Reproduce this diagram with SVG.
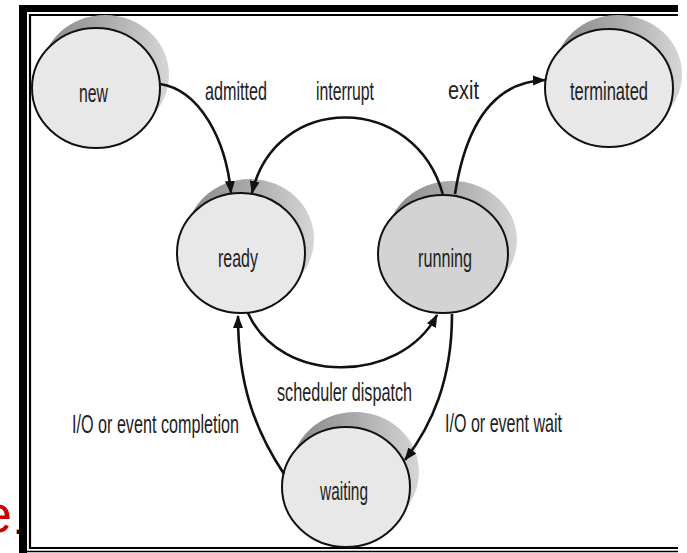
<svg xmlns="http://www.w3.org/2000/svg" width="687" height="553" viewBox="0 0 687 553">
  <style>
    .state { fill: #e8e8e8; stroke: #111; stroke-width: 2; }
    .state.active { fill: #d3d3d3; }
    .shadow { fill: url(#shade); stroke: none; }
    .lbl { font-family: "Liberation Sans", Arial, sans-serif; font-size: 26px; fill: #222; }
    .edge { fill: none; stroke: #111; stroke-width: 2.6; marker-end: url(#head); }
    .frame { fill: none; stroke: #000; }
  </style>
  <defs>
    <linearGradient id="shade" x1="0" y1="0" x2="1" y2="0">
      <stop offset="0" stop-color="#888"/>
      <stop offset="0.5" stop-color="#aaa"/>
      <stop offset="1" stop-color="#d6d6d6"/>
    </linearGradient>
    <marker id="head" markerUnits="userSpaceOnUse" markerWidth="14" markerHeight="11" refX="12" refY="5" orient="auto">
      <path d="M0,0 L13,5 L0,10 Z" fill="#111"/>
    </marker>
  </defs>

  <rect width="687" height="553" fill="#fff"/>

  <!-- picture frame: heavy outer band plus thin inner rule -->
  <g id="frame">
    <rect x="19" y="5" width="8" height="548" fill="#000"/>
    <rect x="19" y="5" width="659" height="7" fill="#000"/>
    <path class="frame" stroke-width="2.2" d="M678,15 H30 V548 H678"/>
    <path class="frame" stroke="#333" stroke-width="1.4" d="M27,551.5 H678"/>
  </g>

  <!-- slide text fragment at the left edge -->
  <text x="12" y="532" text-anchor="end" font-family="Liberation Sans, Arial, sans-serif" font-size="52" fill="#cc0000">e</text>
  <text x="13" y="534" font-family="Liberation Sans, Arial, sans-serif" font-size="40" fill="#111">.</text>

  <!-- state nodes -->
  <g id="new">
    <ellipse class="shadow" cx="105" cy="75" rx="64" ry="60"/>
    <ellipse class="state" cx="96" cy="88" rx="64" ry="60"/>
    <text class="lbl" x="79" y="102" textLength="29" lengthAdjust="spacingAndGlyphs">new</text>
  </g>
  <g id="terminated">
    <ellipse class="shadow" cx="618" cy="74" rx="64" ry="59"/>
    <ellipse class="state" cx="609" cy="88" rx="64" ry="59"/>
    <text class="lbl" x="570" y="100" textLength="78" lengthAdjust="spacingAndGlyphs">terminated</text>
  </g>
  <g id="ready">
    <ellipse class="shadow" cx="250" cy="239" rx="64" ry="60"/>
    <ellipse class="state" cx="241" cy="253" rx="64" ry="60"/>
    <text class="lbl" x="218" y="267" textLength="40" lengthAdjust="spacingAndGlyphs">ready</text>
  </g>
  <g id="running">
    <ellipse class="shadow" cx="452" cy="240" rx="65" ry="59"/>
    <ellipse class="state active" cx="443" cy="254" rx="65" ry="59"/>
    <text class="lbl" x="418" y="267" textLength="54" lengthAdjust="spacingAndGlyphs">running</text>
  </g>
  <g id="waiting">
    <ellipse class="shadow" cx="355" cy="472" rx="64" ry="60"/>
    <ellipse class="state" cx="346" cy="487" rx="64" ry="60"/>
    <text class="lbl" x="320" y="500" textLength="48" lengthAdjust="spacingAndGlyphs">waiting</text>
  </g>

  <!-- transitions -->
  <g id="connectors">
    <path id="admitted" class="edge" d="M160,84 C200,90 226,140 231,193"/>
    <path id="interrupt" class="edge" d="M443,195 C415,92 275,92 252,193"/>
    <path id="exit" class="edge" d="M455,194 C465,130 490,82 545,80"/>
    <path id="dispatch" class="edge" d="M248,313 C280,385 400,385 437,315"/>
    <path id="io-completion" class="edge" stroke-width="2.2" d="M284,474 C255,430 238,385 238,316"/>
    <path id="io-wait" class="edge" stroke-width="2.2" d="M452,314 C452,380 432,425 405,460"/>
  </g>

  <!-- transition labels -->
  <g id="edge-labels">
    <text class="lbl" x="205" y="100" textLength="62" lengthAdjust="spacingAndGlyphs">admitted</text>
    <text class="lbl" x="316" y="100" textLength="58" lengthAdjust="spacingAndGlyphs">interrupt</text>
    <text class="lbl" x="448" y="99" textLength="31" lengthAdjust="spacingAndGlyphs">exit</text>
    <text class="lbl" x="277" y="401" textLength="135" lengthAdjust="spacingAndGlyphs">scheduler dispatch</text>
    <text class="lbl" x="72" y="433" textLength="167" lengthAdjust="spacingAndGlyphs">I/O or event completion</text>
    <text class="lbl" x="445" y="432" textLength="117" lengthAdjust="spacingAndGlyphs">I/O or event wait</text>
  </g>
</svg>
